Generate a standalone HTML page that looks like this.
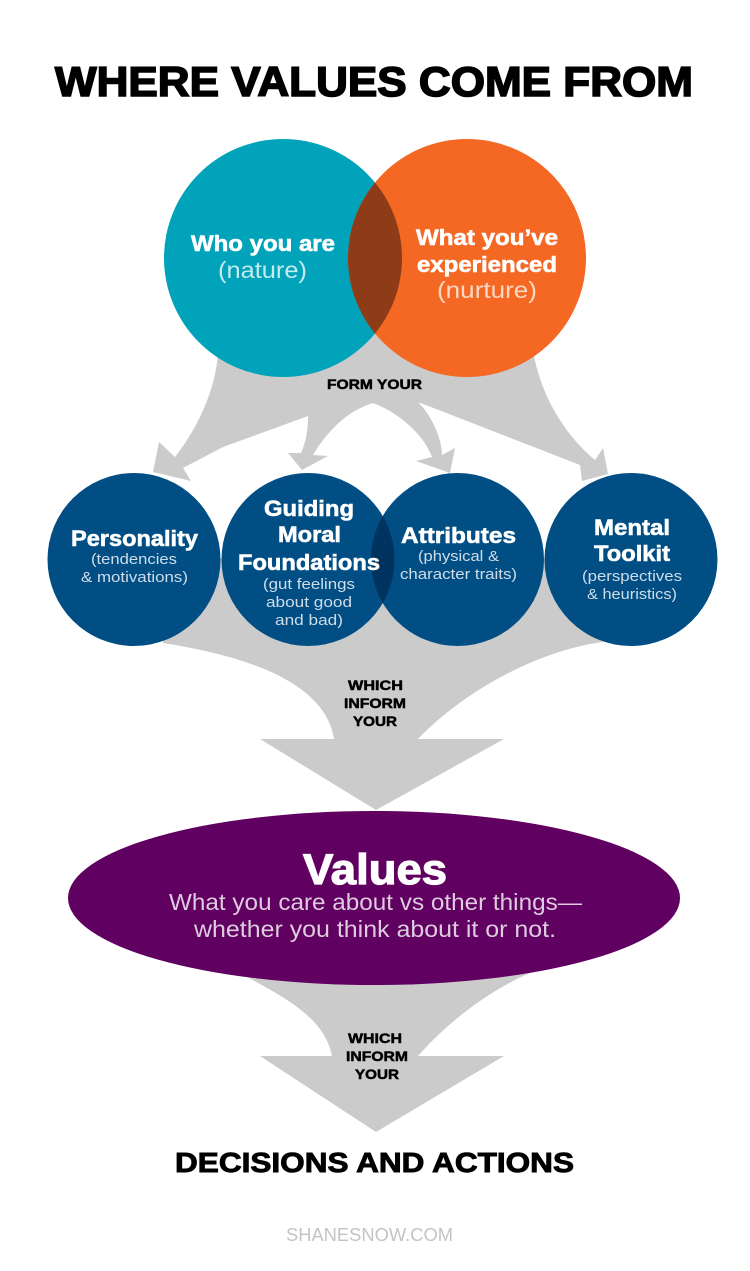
<!DOCTYPE html>
<html><head><meta charset="utf-8"><style>
html,body{margin:0;padding:0;background:#fff}
svg{display:block}
text{font-family:"Liberation Sans",sans-serif;text-anchor:start}
.bs{font-weight:700;fill:#fff;font-size:22.5px;stroke:#fff;stroke-width:.6px}
.l{fill:#cfdde9;font-size:15px}
.k{font-weight:700;fill:#000;font-size:14px;stroke:#000;stroke-width:.5px}
</style></head><body>
<svg width="750" height="1271" viewBox="0 0 750 1271" xmlns="http://www.w3.org/2000/svg">
<defs>
<clipPath id="c1"><circle cx="283" cy="258" r="119"/></clipPath>
<clipPath id="c2"><circle cx="308" cy="559.5" r="86.5"/></clipPath>
</defs>
<rect width="750" height="1271" fill="#fff"/>
<g fill="#cbcbcb">
<path d="M218 350 L375 320 L533 350 C540 395 565 435 595 460 L603 448 L608 474 L582 481 L580 465 L418 402 C433 417 442 440 442 455 L455 448 L450 473 L416 461 L432 457 C423 433 397 412 373 403 C350 410 330 427 313 455 L328 456 L302 470 L288 453 L301 453 C306 442 308 430 308 416 L223 447 L183 468 L191 481 L153 472 L159 442 L175 457 C200 425 217 385 218 350 Z"/>
<path d="M150 559 L163 643 C240 655 325 680 334 739 L260 739 L376 810 L504 739 L418 739 C465 690 540 650 603 642 L620 559 Z"/>
<path d="M247 977 C290 1000 325 1020 332 1056 L260 1056 L376 1132 L504 1056 L418 1056 C450 1020 490 990 530 973 L530 950 L247 950 Z"/>
</g>
<circle cx="283" cy="258" r="119" fill="#00a3b9"/>
<circle cx="467" cy="258" r="119" fill="#f46823"/>
<circle cx="467" cy="258" r="119" fill="#8e3c17" clip-path="url(#c1)"/>
<circle cx="134" cy="559.5" r="86.5" fill="#004e84"/>
<circle cx="308" cy="559.5" r="86.5" fill="#004e84"/>
<circle cx="457.5" cy="559.5" r="86.5" fill="#004e84"/>
<circle cx="631" cy="559.5" r="86.5" fill="#004e84"/>
<circle cx="457.5" cy="559.5" r="86.5" fill="#003360" clip-path="url(#c2)"/>
<ellipse cx="374" cy="898" rx="306" ry="87" fill="#600060"/>

<text x="55" y="96" font-size="42" font-weight="700" fill="#000" stroke="#000" stroke-width="1.6" textLength="638" lengthAdjust="spacingAndGlyphs">WHERE VALUES COME FROM</text>

<text class="bs" x="191" y="251" textLength="144" lengthAdjust="spacingAndGlyphs">Who you are</text>
<text x="218" y="278" font-size="23" fill="#c6eaf0" textLength="89" lengthAdjust="spacingAndGlyphs">(nature)</text>
<text class="bs" x="416" y="245" textLength="142" lengthAdjust="spacingAndGlyphs">What you’ve</text>
<text class="bs" x="417" y="272" textLength="140" lengthAdjust="spacingAndGlyphs">experienced</text>
<text x="437" y="298" font-size="23" fill="#fcd8c2" textLength="100" lengthAdjust="spacingAndGlyphs">(nurture)</text>

<text class="k" x="327" y="389" textLength="95" lengthAdjust="spacingAndGlyphs">FORM YOUR</text>

<text class="bs" x="71" y="546" textLength="127" lengthAdjust="spacingAndGlyphs">Personality</text>
<text class="l" x="91" y="564" textLength="86" lengthAdjust="spacingAndGlyphs">(tendencies</text>
<text class="l" x="81" y="582" textLength="107" lengthAdjust="spacingAndGlyphs">&amp; motivations)</text>

<text class="bs" x="264" y="516" textLength="90" lengthAdjust="spacingAndGlyphs">Guiding</text>
<text class="bs" x="278" y="542" textLength="63" lengthAdjust="spacingAndGlyphs">Moral</text>
<text class="bs" x="238" y="570" textLength="142" lengthAdjust="spacingAndGlyphs">Foundations</text>
<text class="l" x="263" y="589" textLength="92" lengthAdjust="spacingAndGlyphs">(gut feelings</text>
<text class="l" x="266" y="607" textLength="86" lengthAdjust="spacingAndGlyphs">about good</text>
<text class="l" x="275" y="625" textLength="68" lengthAdjust="spacingAndGlyphs">and bad)</text>

<text class="bs" x="401" y="543" textLength="115" lengthAdjust="spacingAndGlyphs">Attributes</text>
<text class="l" x="418" y="561" textLength="81" lengthAdjust="spacingAndGlyphs">(physical &amp;</text>
<text class="l" x="400" y="579" textLength="117" lengthAdjust="spacingAndGlyphs">character traits)</text>

<text class="bs" x="594" y="535" textLength="76" lengthAdjust="spacingAndGlyphs">Mental</text>
<text class="bs" x="594" y="561" textLength="76" lengthAdjust="spacingAndGlyphs">Toolkit</text>
<text class="l" x="582" y="581" textLength="100" lengthAdjust="spacingAndGlyphs">(perspectives</text>
<text class="l" x="587" y="599" textLength="90" lengthAdjust="spacingAndGlyphs">&amp; heuristics)</text>

<text class="k" x="348" y="690" textLength="55" lengthAdjust="spacingAndGlyphs">WHICH</text>
<text class="k" x="344" y="708" textLength="62" lengthAdjust="spacingAndGlyphs">INFORM</text>
<text class="k" x="353" y="726" textLength="44" lengthAdjust="spacingAndGlyphs">YOUR</text>

<text x="303" y="884" font-size="43" font-weight="700" fill="#fff" stroke="#fff" stroke-width="1.2" textLength="144" lengthAdjust="spacingAndGlyphs">Values</text>
<text x="169" y="910" font-size="23" fill="#dfcbdf" textLength="413" lengthAdjust="spacingAndGlyphs">What you care about vs other things—</text>
<text x="194" y="937" font-size="23" fill="#dfcbdf" textLength="362" lengthAdjust="spacingAndGlyphs">whether you think about it or not.</text>

<text class="k" x="348" y="1043" textLength="54" lengthAdjust="spacingAndGlyphs">WHICH</text>
<text class="k" x="346" y="1061" textLength="62" lengthAdjust="spacingAndGlyphs">INFORM</text>
<text class="k" x="355" y="1079" textLength="44" lengthAdjust="spacingAndGlyphs">YOUR</text>

<text x="175" y="1172" font-size="28" font-weight="700" fill="#000" stroke="#000" stroke-width=".9" textLength="399" lengthAdjust="spacingAndGlyphs">DECISIONS AND ACTIONS</text>
<text x="286" y="1241" font-size="18" fill="#c4c4c4" textLength="167" lengthAdjust="spacingAndGlyphs">SHANESNOW.COM</text>
</svg>
</body></html>
